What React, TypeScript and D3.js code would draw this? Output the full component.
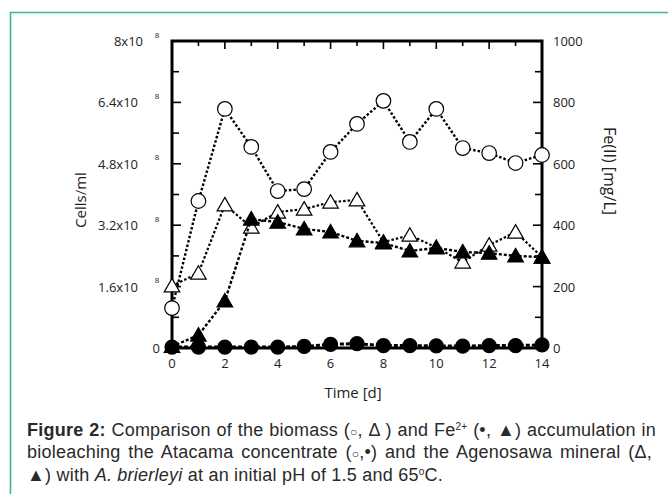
import { useEffect, useRef } from 'react';
import * as d3 from 'd3';

// Time in days
const days = [0, 1, 2, 3, 4, 5, 6, 7, 8, 9, 10, 11, 12, 13, 14];
// Biomass, x10^8 cells/ml (left axis)
const atacamaCells = [1.04, 3.83, 6.23, 5.24, 4.09, 4.14, 5.11, 5.84, 6.44, 5.37, 6.23, 5.21, 5.08, 4.82, 5.03];
const agenosawaCells = [1.62, 1.95, 3.73, 3.15, 3.54, 3.62, 3.8, 3.86, 2.76, 2.94, 2.62, 2.24, 2.68, 3.02, 2.37];
// Fe(II), mg/L (right axis)
const atacamaFe = [3, 3, 3, 3, 3, 5, 12, 14, 8, 8, 7, 6, 8, 8, 10];
const agenosawaFe = [5, 42, 153, 420, 410, 388, 378, 349, 342, 316, 326, 313, 309, 300, 296];

const leftTicks = [0, 1.6, 3.2, 4.8, 6.4, 8];
const leftTickLabels = ['0', '1.6x10', '3.2x10', '4.8x10', '6.4x10', '8x10'];
const leftExponent = '8';
const rightTicks = [0, 200, 400, 600, 800, 1000];
const xTicks = [0, 2, 4, 6, 8, 10, 12, 14];

type Seg = { t: string; b?: boolean; i?: boolean; sup?: boolean; sym?: boolean };
const captionLines: Seg[][] = [
  [{ t: 'Figure 2:', b: true }, { t: ' Comparison of the biomass (' }, { t: '○', sym: true }, { t: ', Δ ) and Fe' },
    { t: '2+', sup: true }, { t: ' (•, ▲) accumulation in' }],
  [{ t: 'bioleaching the Atacama concentrate (' }, { t: '○', sym: true }, { t: ',•) and the Agenosawa mineral (Δ,' }],
  [{ t: '▲) with ' }, { t: 'A. brierleyi', i: true }, { t: ' at an initial pH of 1.5 and 65' }, { t: 'o', sup: true }, { t: 'C.' }],
];

export default function App() {
  const ref = useRef<SVGSVGElement>(null);

  useEffect(() => {
    if (!ref.current) return;
    const svg = d3.select(ref.current);
    svg.selectAll('*').remove();

    const W = 668, H = 494;
    const m = { l: 172, r: 542, t: 41, b: 348 };
    const axisFont = '"Open Sans", sans-serif';

    // page frame
    svg.append('path').attr('d', `M10.5,${H} V12.5 H${W}`)
      .attr('fill', 'none').attr('stroke', '#3cb5a0').attr('stroke-width', 1.6);

    const x = d3.scaleLinear().domain([0, 14]).range([m.l, m.r]);
    const yL = d3.scaleLinear().domain([0, 8]).range([m.b, m.t]);
    const yR = d3.scaleLinear().domain([0, 1000]).range([m.b, m.t]);

    const g = svg.append('g');

    // ticks (inward)
    d3.range(0, 15).forEach(d => {
      const len = d % 2 === 0 ? 8 : 5;
      g.append('line').attr('x1', x(d)).attr('x2', x(d)).attr('y1', m.t).attr('y2', m.t + len)
        .attr('stroke', '#000').attr('stroke-width', 1.6);
      g.append('line').attr('x1', x(d)).attr('x2', x(d)).attr('y1', m.b).attr('y2', m.b - len)
        .attr('stroke', '#000').attr('stroke-width', 1.6);
    });
    d3.range(0, 11).forEach(k => {
      const v = k * 0.8;
      const len = k % 2 === 0 ? 9 : 7;
      g.append('line').attr('x1', m.l).attr('x2', m.l + len).attr('y1', yL(v)).attr('y2', yL(v))
        .attr('stroke', '#000').attr('stroke-width', 1.6);
      g.append('line').attr('x1', m.r).attr('x2', m.r - len).attr('y1', yR(k * 100)).attr('y2', yR(k * 100))
        .attr('stroke', '#000').attr('stroke-width', 1.6);
    });

    // frame
    g.append('rect').attr('x', m.l).attr('y', m.t).attr('width', m.r - m.l).attr('height', m.b - m.t)
      .attr('fill', 'none').attr('stroke', '#000').attr('stroke-width', 3);

    // tick labels
    const txt = { fill: '#222', 'font-family': axisFont, 'font-size': '13px' } as Record<string, string>;
    const applyTxt = (s: d3.Selection<SVGTextElement, unknown, null, undefined>) => {
      Object.entries(txt).forEach(([k, v]) => s.attr(k, v));
      return s;
    };
    leftTicks.forEach((v, i) => {
      const lab = leftTickLabels[i];
      if (v === 0) {
        applyTxt(g.append('text')).attr('x', 160).attr('y', yL(v)).attr('text-anchor', 'end')
          .attr('dominant-baseline', 'central').text(lab);
        return;
      }
      applyTxt(g.append('text')).attr('x', i === leftTicks.length - 1 ? 143 : 138).attr('y', yL(v))
        .attr('text-anchor', 'end').attr('dominant-baseline', 'central').text(lab);
      applyTxt(g.append('text')).attr('x', 157).attr('y', yL(v) - 7).attr('font-size', '8px')
        .attr('text-anchor', 'middle').attr('dominant-baseline', 'central').text(leftExponent);
    });
    rightTicks.forEach(v => {
      applyTxt(g.append('text')).attr('x', 553).attr('y', yR(v)).attr('dominant-baseline', 'central').text(String(v));
    });
    xTicks.forEach(v => {
      applyTxt(g.append('text')).attr('x', x(v)).attr('y', 363).attr('text-anchor', 'middle')
        .attr('dominant-baseline', 'central').text(String(v));
    });

    // axis titles
    applyTxt(g.append('text')).attr('font-size', '15px').attr('x', 353).attr('y', 392)
      .attr('text-anchor', 'middle').attr('dominant-baseline', 'central').text('Time [d]');
    applyTxt(g.append('text')).attr('font-size', '15px').attr('transform', 'translate(80,200) rotate(-90)')
      .attr('text-anchor', 'middle').attr('dominant-baseline', 'central').text('Cells/ml');
    applyTxt(g.append('text')).attr('font-size', '16px').attr('transform', 'translate(610,171) rotate(90)')
      .attr('text-anchor', 'middle').attr('dominant-baseline', 'central').text('Fe(II) [mg/L]');

    // series
    const tri = d3.symbol().type(d3.symbolTriangle).size(105);
    const drawSeries = (vals: number[], y: d3.ScaleLinear<number, number>, dash: string, sw: number,
      marker: 'circle' | 'triangle', filled: boolean) => {
      const pts = vals.map((v, i) => [x(days[i]), y(v)] as [number, number]);
      g.append('path').attr('d', d3.line()(pts)).attr('fill', 'none').attr('stroke', '#000')
        .attr('stroke-width', sw).attr('stroke-dasharray', dash);
      pts.forEach(([px, py]) => {
        if (marker === 'circle') {
          g.append('circle').attr('cx', px).attr('cy', py).attr('r', filled ? 7 : 7.3)
            .attr('fill', filled ? '#000' : '#fff').attr('stroke', '#000').attr('stroke-width', 1.2);
        } else {
          g.append('path').attr('d', tri).attr('transform', `translate(${px},${py + 1.5})`)
            .attr('fill', filled ? '#000' : '#fff').attr('stroke', '#000').attr('stroke-width', 1.2);
        }
      });
    };
    drawSeries(atacamaCells, yL, '2.5,2', 2.4, 'circle', false);
    drawSeries(agenosawaCells, yL, '2.5,2', 2.2, 'triangle', false);
    drawSeries(agenosawaFe, yR, '3,2', 2.4, 'triangle', true);
    drawSeries(atacamaFe, yR, '4,2', 3, 'circle', true);

    // caption
    const capX = 27;
    const baselines = [436, 458.3, 480.6];
    const targets = [656 - capX, 652 - capX, 0];
    const natural3 = 416;
    const texts = captionLines.map((segs, li) => {
      const t = svg.append('text').attr('x', capX).attr('y', baselines[li])
        .attr('font-family', '"Liberation Sans", Arial, sans-serif').attr('font-size', '18px').attr('fill', '#2a2a2a');
      let raised = false;
      segs.forEach(s => {
        const sp = t.append('tspan').text(s.t);
        if (s.b) sp.attr('font-weight', 'bold');
        if (s.i) sp.attr('font-style', 'italic');
        if (s.sym) sp.attr('font-size', '12px');
        if (s.sup) { sp.attr('font-size', '10px').attr('dy', -6); raised = true; }
        else if (raised) { sp.attr('dy', 6); raised = false; }
      });
      return t;
    });
    const fit = () => {
      const t3 = texts[2].node() as SVGTextElement;
      texts.forEach(t => t.attr('letter-spacing', null).attr('word-spacing', null));
      const n3 = t3.getNumberOfChars();
      const ls = (natural3 - t3.getComputedTextLength()) / n3;
      texts.forEach((t, li) => {
        t.attr('letter-spacing', ls);
        if (!targets[li]) return;
        const node = t.node() as SVGTextElement;
        const spaces = (node.textContent || '').split(' ').length - 1;
        const len = node.getComputedTextLength();
        t.attr('word-spacing', (targets[li] - len) / spaces);
      });
    };
    fit();
    document.fonts?.ready.then(fit);
  }, []);

  return (
    <div style={{ position: 'absolute', left: 0, top: 0, width: 668, height: 494, background: '#fff' }}>
      <svg ref={ref} width={668} height={494} viewBox="0 0 668 494" style={{ display: 'block' }} />
    </div>
  );
}
